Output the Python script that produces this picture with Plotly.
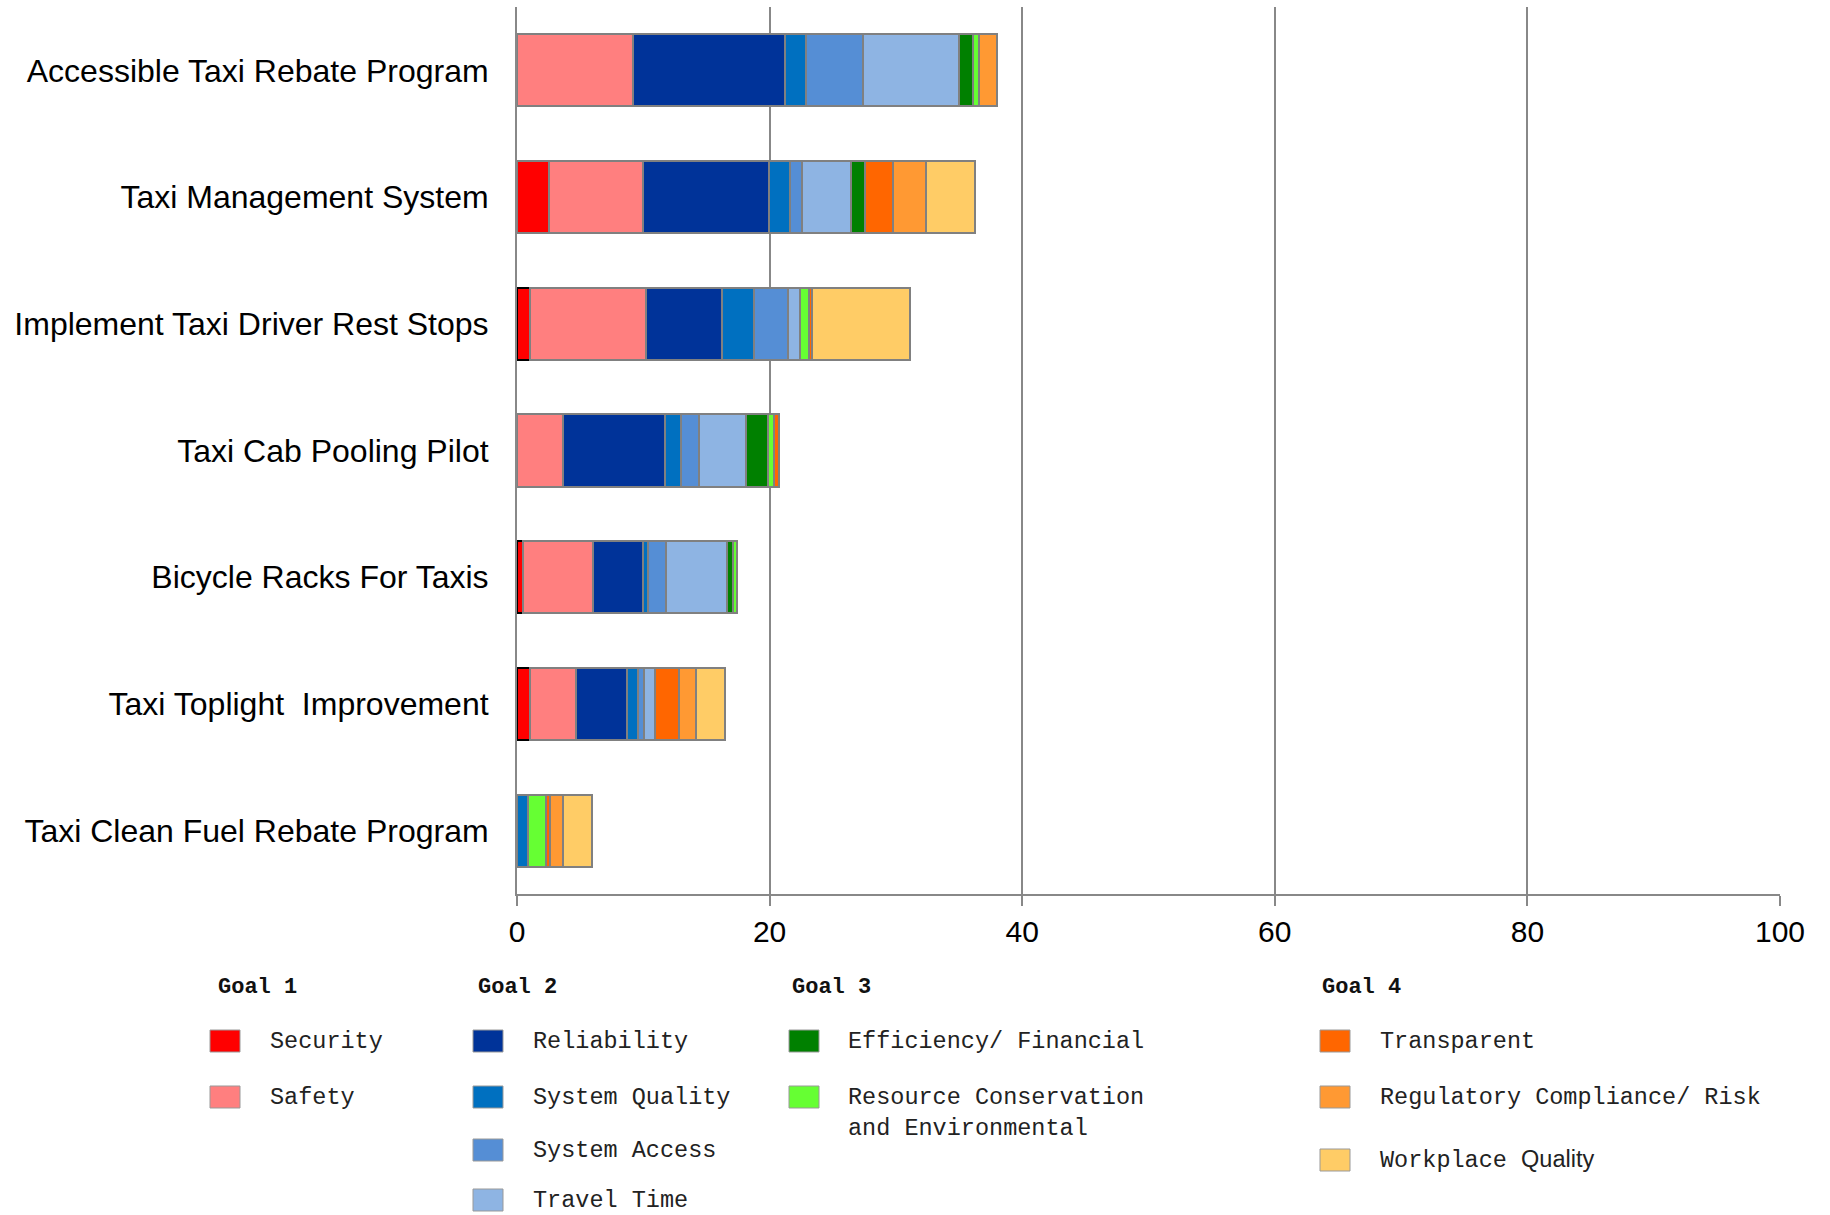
import plotly.graph_objects as go

categories = [
    "Accessible Taxi Rebate Program",
    "Taxi Management System",
    "Implement Taxi Driver Rest Stops",
    "Taxi Cab Pooling Pilot",
    "Bicycle Racks For Taxis",
    "Taxi Toplight\u00a0 Improvement",
    "Taxi Clean Fuel Rebate Program",
]

security = [None, 2.55, 1.0, None, 0.5, 1.0, None]
safety = [9.2, 7.4, 9.2, 3.65, 5.5, 3.7, None]
reliability = [12.0, 10.0, 6.0, 8.05, 4.0, 4.0, None]
system_quality = [1.7, 1.7, 2.6, 1.3, 0.4, 0.85, 0.9]
system_access = [4.5, 0.9, 2.65, 1.4, 1.4, 0.5, None]
travel_time = [7.6, 3.9, 0.95, 3.75, 4.8, 0.9, None]
efficiency = [1.1, 1.1, None, 1.7, 0.5, None, None]
resource = [0.5, None, 0.7, 0.5, 0.3, None, 1.4]
transparent = [None, 2.25, 0.25, 0.4, None, 1.9, 0.35]
regulatory = [1.4, 2.6, None, None, None, 1.3, 1.0]
workplace = [None, 3.9, 7.8, None, None, 2.3, 2.3]

x_ticks = [0, 20, 40, 60, 80, 100]

series = [
    ("Security", security, "#FF0000"),
    ("Safety", safety, "#FF7F7F"),
    ("Reliability", reliability, "#003399"),
    ("System Quality", system_quality, "#0070C0"),
    ("System Access", system_access, "#558ED5"),
    ("Travel Time", travel_time, "#8EB4E3"),
    ("Efficiency/ Financial", efficiency, "#008000"),
    ("Resource Conservation and Environmental", resource, "#66FF33"),
    ("Transparent", transparent, "#FF6600"),
    ("Regulatory Compliance/ Risk", regulatory, "#FF9933"),
    ("Workplace Quality", workplace, "#FFCC66"),
]

# legend layout: goal -> list of (label text, series index)
goals = [
    ("Goal 1", [("Security", 0), ("Safety", 1)]),
    ("Goal 2", [("Reliability", 2), ("System Quality", 3), ("System Access", 4), ("Travel Time", 5)]),
    ("Goal 3", [("Efficiency/ Financial", 6), ("Resource Conservation<br>and Environmental", 7)]),
    ("Goal 4", [("Transparent", 8), ("Regulatory Compliance/ Risk", 9),
                ('Workplace <span style="font-family:Arial">Quality</span>', 10)]),
]

W, H = 1830, 1215
L, R, T, B = 517, 50, 7, 321
PW = W - L - R
PH = H - T - B

def px(x):
    return (x - L) / PW

def py(y):
    return (H - B - y) / PH

fig = go.Figure()
for i, (name, vals, col) in enumerate(series):
    line_cols = ["#808080"] * len(categories)
    if i == 0:
        line_cols = ["#808080", "#808080", "#000000", "#808080", "#000000", "#000000", "#808080"]
    fig.add_trace(go.Bar(
        y=categories, x=vals, name=name, orientation="h",
        marker=dict(color=col, line=dict(color=line_cols, width=2)),
        showlegend=False,
    ))

col_x = [(210, 268, 216), (473, 531, 476), (789, 846, 790), (1320, 1378, 1320)]
row_y = [1041, 1097, 1150, 1200]
goal_y = 987

annotations = []
shapes = []
for gi, (gname, items) in enumerate(goals):
    sx, tx, gx = col_x[gi]
    annotations.append(dict(
        xref="paper", yref="paper", x=px(gx), y=py(goal_y), xanchor="left", yanchor="middle",
        text="<b>" + gname + "</b>", showarrow=False,
        font=dict(family="Liberation Mono, Courier New, monospace", size=22, color="#111"),
    ))
    for ri, (label, si) in enumerate(items):
        yc = row_y[ri]
        if gi == 3 and ri == 2:
            yc = 1160
        shapes.append(dict(
            type="rect", xref="paper", yref="paper",
            x0=px(sx), x1=px(sx + 30), y0=py(yc - 11), y1=py(yc + 11),
            fillcolor=series[si][2], line=dict(color="#999999", width=1),
        ))
        two_line = "<br>" in label
        if two_line:
            label = label.replace("<br>", "<br><span style=\"font-size:25px\"> </span>") if False else label
        annotations.append(dict(
            xref="paper", yref="paper", x=px(tx), y=py(yc - 15) if two_line else py(yc),
            xanchor="left", yanchor="top" if two_line else "middle", align="left",
            text=label, showarrow=False,
            font=dict(family="Liberation Mono, Courier New, monospace", size=23.5, color="#222"),
        ))

fig.update_layout(
    width=W, height=H, autosize=False,
    margin=dict(l=L, r=R, t=T, b=B, pad=0),
    barmode="stack", bargap=0.43,
    plot_bgcolor="white", paper_bgcolor="white",
    annotations=annotations, shapes=shapes,
    font=dict(family="Liberation Sans, Arial, sans-serif", color="black"),
)
fig.update_xaxes(
    range=[0, 100], tickvals=x_ticks, ticktext=[str(v) for v in x_ticks],
    showgrid=True, gridcolor="#888888", gridwidth=2,
    showline=True, linecolor="#888888", linewidth=2,
    ticks="outside", ticklen=10, tickwidth=2, tickcolor="#888888",
    tickfont=dict(size=30, family="Liberation Sans, Arial, sans-serif", color="black"),
    zeroline=False, automargin=False, fixedrange=True,
)
fig.update_yaxes(
    categoryorder="array", categoryarray=categories, autorange="reversed",
    showgrid=False, showline=True, linecolor="#888888", linewidth=2,
    ticks="", ticklabelstandoff=20,
    tickfont=dict(size=32, family="Liberation Sans, Arial, sans-serif", color="black"),
    automargin=False, fixedrange=True,
)

fig.write_html("out.html")
